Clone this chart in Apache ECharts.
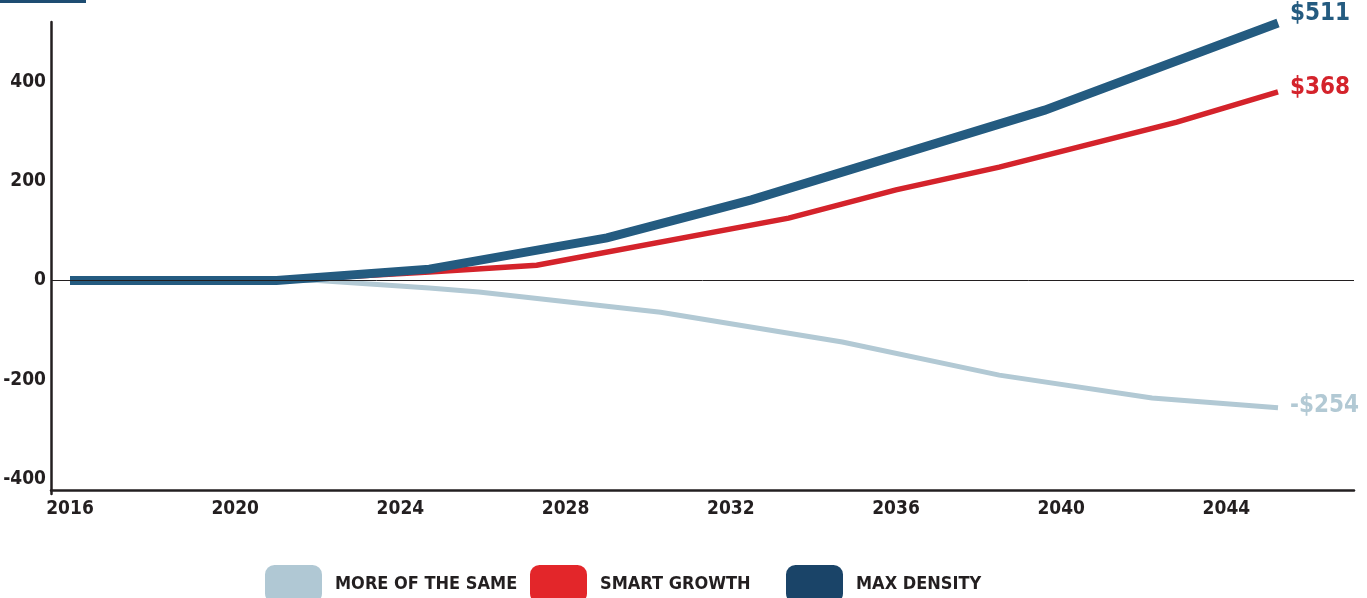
<!DOCTYPE html>
<html>
<head>
<meta charset="utf-8">
<script src="https://cdn.jsdelivr.net/npm/echarts@6/dist/echarts.min.js"></script>
<style>
  html, body { margin: 0; padding: 0; background: #fff; }
  #chart { width: 1367px; height: 598px; }
</style>
</head>
<body>
<div id="chart"></div>
<script>
const FONT = "'Liberation Sans Narrow', 'DejaVu Sans Condensed', sans-serif"
const INK = '#231f20'

const COLOR_SAME = '#b2c9d4'
const COLOR_SMART = '#d4232b'
const COLOR_DENSITY = '#245b80'
const LEGEND_SAME = '#b0c8d4'
const LEGEND_SMART = '#e3262a'
const LEGEND_DENSITY = '#1a4468'

// years are read off the picture, so they are not always whole years
const sameYears = [2016, 2022, 2024.7, 2025.9, 2030.3, 2034.7, 2038.5, 2042.2, 2045.25]
const sameValues = [0, 0, -15, -23, -64, -124, -191, -237, -257]

const smartYears = [2016, 2021, 2024.7, 2027.3, 2033.4, 2036.0, 2038.5, 2042.8, 2045.25]
const smartValues = [0, 0, 17, 31, 126, 183, 229, 320, 381]

const densityYears = [2016, 2021, 2024.7, 2029.0, 2032.5, 2039.6, 2045.25]
const densityValues = [0, 0, 23, 86, 163, 344, 520]

const seriesNames = ['MORE OF THE SAME', 'SMART GROWTH', 'MAX DENSITY']
const endLabels = ['-$254', '$368', '$511']
const xTicks = [2016, 2020, 2024, 2028, 2032, 2036, 2040, 2044]
const yTicks = [-400, -200, 0, 200, 400]

const pairs = (xs, ys) => xs.map((x, i) => [x, ys[i]])

function lineSeries(name, data, color, width, label, dy) {
  return {
    name, type: 'line', data,
    symbol: 'none', silent: true,
    lineStyle: { color, width, cap: 'butt', join: 'miter' },
    itemStyle: { color },
    endLabel: {
      show: true, formatter: label, distance: 12, offset: [0, dy],
      color, fontFamily: FONT, fontWeight: 'bold', fontSize: 24
    }
  }
}

function legendAt(left, name, color) {
  return {
    left, top: 565, padding: 0, icon: 'roundRect',
    itemWidth: 57, itemHeight: 38,
    selectedMode: false,
    data: [{ name, itemStyle: { color } }],
    textStyle: {
      color: INK, fontFamily: FONT, fontWeight: 'bold', fontSize: 18,
      padding: [0, 0, 0, 8]
    }
  }
}

function buildOption() {
  return {
    animation: false,
    grid: { left: 51, right: 13, top: 22, bottom: 104, containLabel: false, outerBoundsMode: 'none' },
    legend: [
      legendAt(265, seriesNames[0], LEGEND_SAME),
      legendAt(530, seriesNames[1], LEGEND_SMART),
      legendAt(786, seriesNames[2], LEGEND_DENSITY)
    ],
    graphic: [
      { type: 'rect', shape: { x: 0, y: 0, width: 86, height: 3 }, style: { fill: '#1e4d72' } }
    ],
    xAxis: {
      type: 'value', min: 2015.54, max: 2047.09,
      offset: -4,
      axisLine: { show: true, onZero: false, lineStyle: { color: INK, width: 2.5 } },
      axisTick: { show: false },
      splitLine: { show: false },
      axisLabel: {
        customValues: xTicks, margin: 10,
        color: INK, fontFamily: FONT, fontWeight: 'bold', fontSize: 19,
        formatter: v => String(v)
      }
    },
    yAxis: {
      type: 'value', min: -431, max: 522,
      axisLine: { show: true, onZero: false, lineStyle: { color: INK, width: 2.5 } },
      axisTick: { show: false },
      splitLine: { show: false },
      axisLabel: {
        customValues: yTicks, margin: 5,
        color: INK, fontFamily: FONT, fontWeight: 'bold', fontSize: 19
      }
    },
    series: [
      Object.assign(lineSeries(seriesNames[0], pairs(sameYears, sameValues), COLOR_SAME, 5, endLabels[0], -2), {
        markLine: {
          silent: true, symbol: 'none', label: { show: false },
          lineStyle: { color: INK, width: 1, type: 'solid' },
          data: [{ yAxis: 0 }]
        }
      }),
      lineSeries(seriesNames[1], pairs(smartYears, smartValues), COLOR_SMART, 5.5, endLabels[1], -4),
      lineSeries(seriesNames[2], pairs(densityYears, densityValues), COLOR_DENSITY, 9, endLabels[2], -9)
    ]
  }
}

const chart = echarts.init(document.getElementById('chart'))
chart.setOption(buildOption())
window.addEventListener('resize', () => chart.resize())
</script>
</body>
</html>
